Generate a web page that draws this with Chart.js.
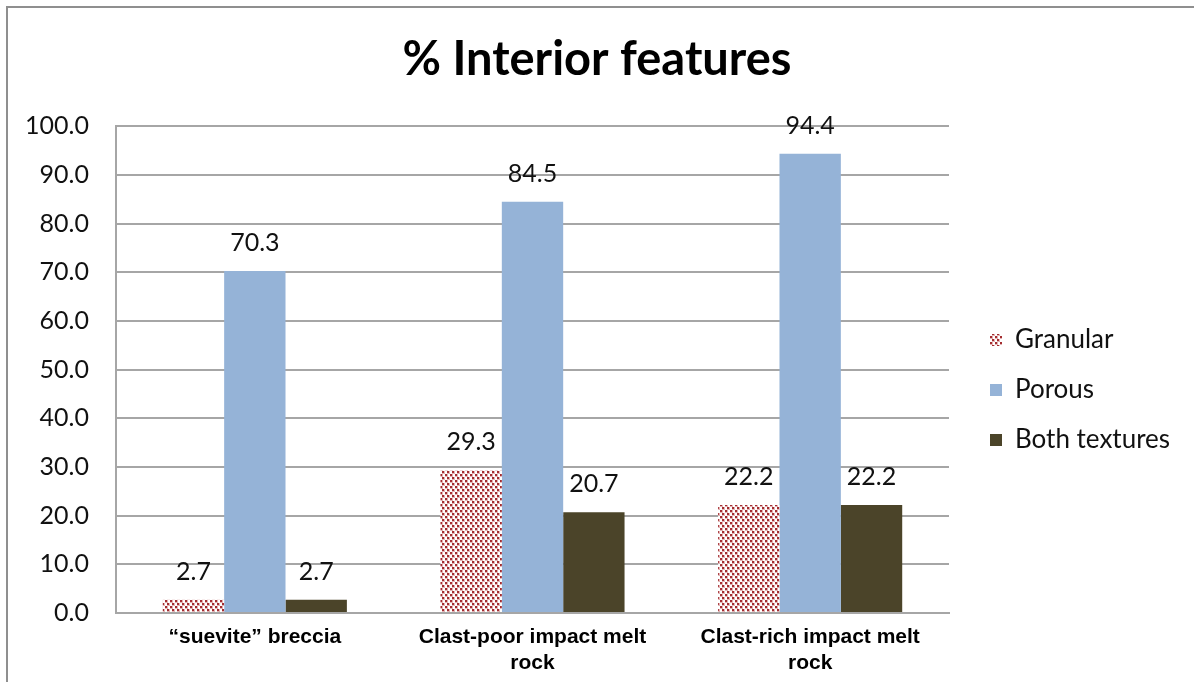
<!DOCTYPE html>
<html>
<head>
<meta charset="utf-8">
<title>% Interior features</title>
<script src="https://cdn.jsdelivr.net/npm/chart.js@4.4.1/dist/chart.umd.min.js"></script>
<style>
  html, body { margin: 0; padding: 0; background: #fff; }
  #wrap { position: relative; width: 1194px; height: 682px; overflow: hidden; background: #fff; }
  #wrap canvas { position: absolute; left: 0; top: 0; }
  /* thin grey frame round the chart (only left and top edges fall inside the window) */
  #frame { position: absolute; left: 6px; top: 6px; width: 1300px; height: 800px;
           border-left: 2px solid #8f8f8f; border-top: 2px solid #8f8f8f; pointer-events: none; }
</style>
</head>
<body>
<div id="wrap">
  <canvas id="interiorChart" width="1194" height="682"></canvas>
  <div id="frame"></div>
</div>
<script>
'use strict';

// rock types along the x axis
var categories   = ['\u201Csuevite\u201D breccia', ['Clast-poor impact melt', 'rock'], ['Clast-rich impact melt', 'rock']];
// % of grains showing each interior feature
var granular     = [2.7, 29.3, 22.2];
var porous       = [70.3, 84.5, 94.4];
var bothTextures = [2.7, 20.7, 22.2];
// y axis ticks
var yTicks       = [0, 10, 20, 30, 40, 50, 60, 70, 80, 90, 100];

var LEGEND_WIDTH = 245;

// dotted red fill used for the "Granular" bars
function granularPattern(ctx) {
  var tile = document.createElement('canvas');
  tile.width = 10;
  tile.height = 6;
  var t = tile.getContext('2d');
  var dots = [[0, 0], [5, 0], [2, 3], [7, 3]];
  t.fillStyle = '#ffffff';
  t.fillRect(0, 0, 10, 6);
  t.fillStyle = '#e2b3b3';
  dots.forEach(function (d) { t.fillRect(d[0], d[1], 3, 3); });
  t.fillStyle = '#a32c30';
  dots.forEach(function (d) { t.fillRect(d[0], d[1], 2, 2); });
  return ctx.createPattern(tile, 'repeat');
}

// numbers written above every bar
var barValueLabels = {
  id: 'barValueLabels',
  afterDatasetsDraw: function (chart) {
    var ctx = chart.ctx;
    ctx.save();
    ctx.font = '25px Lato';
    ctx.fillStyle = '#111';
    ctx.textAlign = 'center';
    ctx.textBaseline = 'middle';
    chart.data.datasets.forEach(function (ds, i) {
      chart.getDatasetMeta(i).data.forEach(function (bar, j) {
        ctx.fillText(ds.data[j].toFixed(1), bar.x, bar.y - 28);
      });
    });
    ctx.restore();
  }
};

// fixed legend column, pushed a little away from the plot
var legendPlacement = {
  id: 'legendPlacement',
  beforeLayout: function (chart) {
    var lg = chart.legend;
    if (lg && !lg._fitWrapped) {
      var fit = lg.fit;
      lg.fit = function () {
        fit.call(this);
        this.width = LEGEND_WIDTH;
      };
      lg._fitWrapped = true;
    }
  },
  afterLayout: function (chart) {
    var lg = chart.legend;
    lg.left += 17;
    lg.right += 17;
    lg.top += 49;
    lg.bottom += 49;
  }
};

var canvas = document.getElementById('interiorChart');
var ctx = canvas.getContext('2d');

var chart = new Chart(ctx, {
  type: 'bar',
  data: {
    labels: categories,
    datasets: [
      { label: 'Granular',      data: granular,     backgroundColor: granularPattern(ctx), borderWidth: 0 },
      { label: 'Porous',        data: porous,       backgroundColor: '#95b3d7',            borderWidth: 0 },
      { label: 'Both textures', data: bothTextures, backgroundColor: '#4b4429',            borderWidth: 0 }
    ]
  },
  options: {
    responsive: false,
    animation: false,
    events: [],
    layout: { padding: 0 },
    datasets: {
      bar: { categoryPercentage: 0.663, barPercentage: 1.0 }
    },
    plugins: {
      title: {
        display: true,
        text: '% Interior features',
        color: '#000',
        font: { family: 'Lato', size: 47, weight: 'bold', lineHeight: 1.2 },
        padding: { top: 32, bottom: 38 }
      },
      legend: {
        position: 'right',
        labels: {
          color: '#111',
          font: { family: 'Lato', size: 26 },
          boxWidth: 12,
          boxHeight: 12,
          padding: 24
        }
      },
      tooltip: { enabled: false }
    },
    scales: {
      x: {
        grid: { display: false },
        border: { display: true, color: '#a6a6a6', width: 2 },
        ticks: {
          color: '#000',
          font: { family: 'Liberation Sans', size: 21, weight: 'bold', lineHeight: 1.2 },
          padding: 4,
          maxRotation: 0,
          autoSkip: false
        },
        afterFit: function (scale) { scale.height = 69; }
      },
      y: {
        min: 0,
        max: 100,
        afterBuildTicks: function (scale) {
          scale.ticks = yTicks.map(function (v) { return { value: v }; });
        },
        grid: { color: '#a6a6a6', lineWidth: 2, drawTicks: false },
        border: { display: true, color: '#a6a6a6', width: 2 },
        ticks: {
          color: '#111',
          font: { family: 'Lato', size: 25 },
          padding: 27,
          callback: function (v) { return Number(v).toFixed(1); }
        },
        afterFit: function (scale) { scale.width = 116; }
      }
    }
  },
  plugins: [barValueLabels, legendPlacement]
});
</script>
</body>
</html>
